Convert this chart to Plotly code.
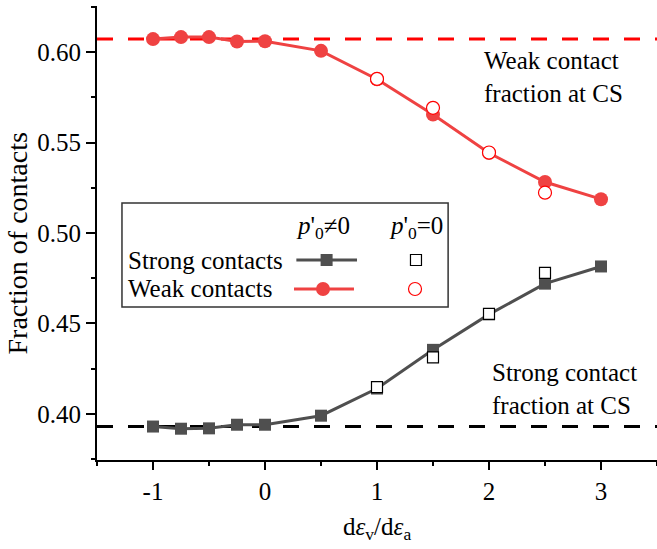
import plotly.graph_objects as go

# ---------------- data ----------------
x_main = [-1, -0.75, -0.5, -0.25, 0, 0.5, 1, 1.5, 2, 2.5, 3]
strong_p0 = [0.393, 0.3918, 0.392, 0.394, 0.394, 0.399, 0.414, 0.4354, 0.455, 0.472, 0.4815]
weak_p0 = [0.6072, 0.6083, 0.6083, 0.6059, 0.606, 0.6007, 0.585, 0.5655, 0.5442, 0.5282, 0.5187]

x_zero = [1, 1.5, 2, 2.5]
strong_zero = [0.4148, 0.4312, 0.4553, 0.478]
weak_zero = [0.5852, 0.5692, 0.5445, 0.5223]

cs_x = [-1.5, 3.5]
cs_weak = 0.6072
cs_strong = 0.393

xticks = [-1, 0, 1, 2, 3]
xticklabels = ["-1", "0", "1", "2", "3"]

FONT = "Liberation Serif"
FS = 25
GRAY = "#4f4f4f"
RED = "#ef4242"

fig = go.Figure()

# CS reference lines
fig.add_trace(go.Scatter(x=cs_x, y=[cs_weak] * len(cs_x), mode="lines",
                         line=dict(color="#ff0000", width=3, dash="16px,15px"),
                         showlegend=False, hoverinfo="skip"))
fig.add_trace(go.Scatter(x=cs_x, y=[cs_strong] * len(cs_x), mode="lines",
                         line=dict(color="#000000", width=3, dash="16px,15px"),
                         showlegend=False, hoverinfo="skip"))

# p'0 != 0 series
fig.add_trace(go.Scatter(x=x_main, y=strong_p0, mode="lines+markers",
                         line=dict(color=GRAY, width=3),
                         marker=dict(symbol="square", size=12, color=GRAY),
                         showlegend=False))
fig.add_trace(go.Scatter(x=x_main, y=weak_p0, mode="lines+markers",
                         line=dict(color=RED, width=3),
                         marker=dict(symbol="circle", size=14, color=RED),
                         showlegend=False))

# p'0 = 0 series
fig.add_trace(go.Scatter(x=x_zero, y=strong_zero, mode="markers",
                         marker=dict(symbol="square", size=11, color="white",
                                     line=dict(color="black", width=1.2)),
                         showlegend=False))
fig.add_trace(go.Scatter(x=x_zero, y=weak_zero, mode="markers",
                         marker=dict(symbol="circle", size=13, color="white",
                                     line=dict(color="#ff0000", width=1.2)),
                         showlegend=False))

# ---------------- custom legend ----------------
shapes = []
annotations = []
shapes.append(dict(type="rect", xref="paper", yref="paper",
                   x0=0.0446, x1=0.627, y0=0.337, y1=0.566,
                   line=dict(color="#333333", width=1.5), fillcolor="white", layer="above"))
shapes.append(dict(type="line", xref="paper", yref="paper",
                   x0=0.356, x1=0.4643, y0=0.4405, y1=0.4405,
                   line=dict(color=GRAY, width=3), layer="above"))
shapes.append(dict(type="rect", xref="paper", yref="paper", xsizemode="pixel", ysizemode="pixel",
                   xanchor=0.41, yanchor=0.4405, x0=-6, x1=6, y0=-6, y1=6,
                   line=dict(color=GRAY, width=0), fillcolor=GRAY, layer="above"))
shapes.append(dict(type="rect", xref="paper", yref="paper", xsizemode="pixel", ysizemode="pixel",
                   xanchor=0.5696, yanchor=0.4405, x0=-5.5, x1=5.5, y0=-5.5, y1=5.5,
                   line=dict(color="black", width=1.2), fillcolor="white", layer="above"))
shapes.append(dict(type="line", xref="paper", yref="paper",
                   x0=0.3518, x1=0.4589, y0=0.3767, y1=0.3767,
                   line=dict(color=RED, width=3), layer="above"))
shapes.append(dict(type="circle", xref="paper", yref="paper", xsizemode="pixel", ysizemode="pixel",
                   xanchor=0.4036, yanchor=0.3767, x0=-7, x1=7, y0=-7, y1=7,
                   line=dict(color=RED, width=0), fillcolor=RED, layer="above"))
shapes.append(dict(type="circle", xref="paper", yref="paper", xsizemode="pixel", ysizemode="pixel",
                   xanchor=0.5679, yanchor=0.3767, x0=-6.5, x1=6.5, y0=-6.5, y1=6.5,
                   line=dict(color="#ff0000", width=1.2), fillcolor="white", layer="above"))

def txt(x, y, text, **kw):
    d = dict(xref="paper", yref="paper", x=x, y=y, text=text, showarrow=False,
             xanchor="left", yanchor="middle", font=dict(family=FONT, size=FS, color="black"))
    d.update(kw)
    return d

annotations += [
    txt(0.4036, 0.513, "<i>p</i>'<sub>0</sub>≠0", xanchor="center"),
    txt(0.5688, 0.513, "<i>p</i>'<sub>0</sub>=0", xanchor="center"),
    txt(0.052, 0.4405, "Strong contacts"),
    txt(0.052, 0.3767, "Weak contacts"),
    txt(0.688, 0.8436, "Weak contact<br>fraction at CS", align="left"),
    txt(0.702, 0.156, "Strong contact<br>fraction at CS", align="left"),
    # axis titles
    txt(0.5, -0.1498, "d<i>ε</i><sub>v</sub>/d<i>ε</i><sub>a</sub>", xanchor="center"),
    txt(-0.1402, 0.478, "Fraction of contacts", xanchor="center", textangle=-90,
        font=dict(family=FONT, size=28, color="black")),
]

fig.update_layout(
    width=657, height=549,
    margin=dict(l=97, r=0, t=6, b=89),
    paper_bgcolor="white", plot_bgcolor="white",
    font=dict(family=FONT, size=FS, color="black"),
    shapes=shapes, annotations=annotations,
    showlegend=False,
)
fig.update_xaxes(
    range=[-1.5, 3.5], tickvals=xticks, ticktext=xticklabels, automargin=False,
    showline=True, linecolor="black", linewidth=2, mirror=False,
    ticks="outside", ticklen=8, tickwidth=2, tickcolor="black",
    minor=dict(ticks="outside", ticklen=4, tickwidth=2, tickcolor="black", dtick=0.5, tick0=0),
    showgrid=False, zeroline=False,
    tickfont=dict(family=FONT, size=FS),
)
fig.update_yaxes(
    range=[0.3745, 0.6255], dtick=0.05, tick0=0, tickformat=".2f", automargin=False,
    showline=True, linecolor="black", linewidth=2, mirror=False,
    ticks="outside", ticklen=9, tickwidth=2, tickcolor="black",
    minor=dict(ticks="outside", ticklen=4, tickwidth=2, tickcolor="black", dtick=0.025, tick0=0),
    showgrid=False, zeroline=False,
    tickfont=dict(family=FONT, size=FS),
)

fig.write_html("out.html", config={"displayModeBar": False},
               post_script="document.body.style.margin='0';document.body.style.overflow='hidden';")
